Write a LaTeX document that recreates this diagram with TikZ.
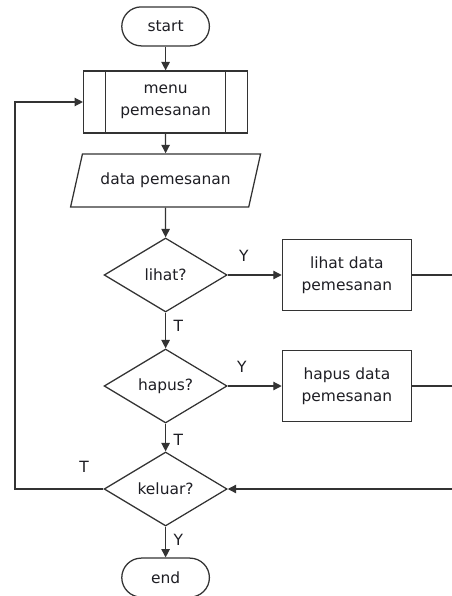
\documentclass[tikz,border=0pt]{standalone}
\usepackage{fontspec}
\setmainfont{DejaVu Sans}
\usepackage{xcolor}
\definecolor{gray-800}{RGB}{51,51,51}
\definecolor{gray-900}{RGB}{30,30,36}
\usetikzlibrary{shapes.geometric,shapes.misc,positioning,arrows.meta}

\begin{document}
\begin{tikzpicture}[
    terminal/.style={
        rounded rectangle,
        draw=gray-800,
        line width=0.9pt,
        fill=white,
        minimum width=2.425cm,
        minimum height=0.975cm,
        font=\fontsize{11}{15.5}\selectfont,
        text=gray-900
    },
    subprocess/.style={
        rectangle,
        draw=gray-800,
        line width=0.9pt,
        fill=white,
        minimum width=4.1cm,
        minimum height=1.55cm,
        font=\fontsize{11}{15.5}\selectfont,
        text=gray-900,
        align=center
    },
    process/.style={
        rectangle,
        draw=gray-800,
        line width=0.9pt,
        fill=white,
        minimum width=3.225cm,
        minimum height=1.775cm,
        font=\fontsize{11}{15.5}\selectfont,
        text=gray-900,
        align=center
    },
    io/.style={
        trapezium,
        trapezium left angle=64,
        trapezium right angle=116,
        trapezium stretches body,
        draw=gray-800,
        line width=0.9pt,
        fill=white,
        minimum width=4.75cm,
        minimum height=1.325cm,
        font=\fontsize{11}{15.5}\selectfont,
        text=gray-900
    },
    decision/.style={
        diamond,
        draw=gray-800,
        line width=0.9pt,
        fill=white,
        minimum width=3.075cm,
        minimum height=1.85cm,
        inner sep=0pt,
        font=\fontsize{11}{15.5}\selectfont,
        text=gray-900
    },
    arrow/.style={-{Triangle[length=6pt,width=6pt]}, line width=0.9pt, gray-800},
    link/.style={line width=0.9pt, gray-800},
    label text/.style={font=\fontsize{11}{13}\selectfont, text=gray-900}
]

\useasboundingbox (0,0) rectangle (11.275,-14.9);

% === MAIN COLUMN ===
\node[terminal] (start) at (4.14,-0.66) {start};

\node[subprocess] (menu) at (4.14,-2.55) {menu\\pemesanan};
\draw[link] ([xshift=0.56cm]menu.north west) -- ([xshift=0.56cm]menu.south west);
\draw[link] ([xshift=-0.56cm]menu.north east) -- ([xshift=-0.56cm]menu.south east);

\node[io] (data) at (4.14,-4.51) {data pemesanan};

% === DECISIONS ===
\node[decision] (lihat) at (4.14,-6.875) {lihat?};
\node[decision] (hapus) at (4.14,-9.65) {hapus?};
\node[decision] (keluar) at (4.14,-12.225) {keluar?};

\node[terminal] (end) at (4.14,-14.44) {end};

% === ACTIONS ===
\node[process, right=1.35cm of lihat] (lihatdata) {lihat data\\pemesanan};
\node[process, right=1.35cm of hapus] (hapusdata) {hapus data\\pemesanan};

% rails for the return lines
\coordinate (leftrail) at (0.375,-8);
\coordinate (rightrail) at (11.31,-8);

% === ARROWS ===
\draw[arrow] (start.south) -- (menu.north);
\draw[arrow] (menu.south) -- (data.north);
\draw[arrow] (data.south) -- (lihat.north);

% Yes branches
\draw[arrow] (lihat.east) -- node[pos=0.3, above=6pt, label text] {Y} (lihatdata.west);
\draw[arrow] (hapus.east) -- node[pos=0.26, above=6pt, label text] {Y} (hapusdata.west);

% No branches
\draw[arrow] (lihat.south) -- node[pos=0.38, right=2pt, label text] {T} (hapus.north);
\draw[arrow] (hapus.south) -- node[pos=0.59, right=2pt, label text] {T} (keluar.north);

% Exit
\draw[arrow] (keluar.south) -- node[pos=0.44, right=2pt, label text] {Y} (end.north);

% Back to the menu
\draw[arrow] (keluar.west) -- node[pos=0.22, above=8pt, label text] {T} (keluar.west -| leftrail) |- (menu.west);

% Actions back to keluar
\draw[arrow] (lihatdata.east) -| (rightrail) |- (keluar.east);
\draw[link] (hapusdata.east) -- (hapusdata.east -| rightrail);

\end{tikzpicture}
\end{document}
